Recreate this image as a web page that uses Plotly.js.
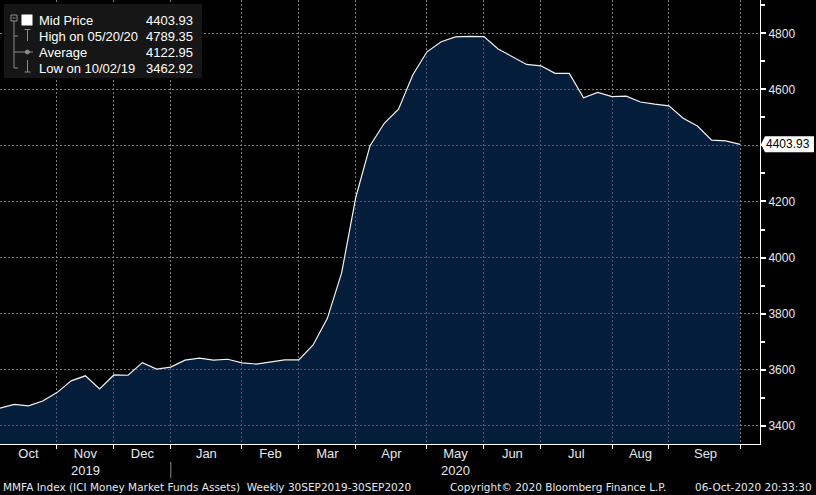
<!DOCTYPE html>
<html>
<head>
<meta charset="utf-8">
<script src="https://cdn.plot.ly/plotly-3.0.1.min.js"></script>
<style>
html,body{margin:0;padding:0;background:#000;}
#chart{width:816px;height:495px;}
</style>
</head>
<body>
<div id="chart"></div>
<script>
// ---- data ----
const weekDates = [
  "2019-10-02","2019-10-09","2019-10-16","2019-10-23","2019-10-30",
  "2019-11-06","2019-11-13","2019-11-20","2019-11-27",
  "2019-12-04","2019-12-11","2019-12-18","2019-12-25",
  "2020-01-01","2020-01-08","2020-01-15","2020-01-22","2020-01-29",
  "2020-02-05","2020-02-12","2020-02-19","2020-02-26",
  "2020-03-04","2020-03-11","2020-03-18","2020-03-25",
  "2020-04-01","2020-04-08","2020-04-15","2020-04-22","2020-04-29",
  "2020-05-06","2020-05-13","2020-05-20","2020-05-27",
  "2020-06-03","2020-06-10","2020-06-17","2020-06-24",
  "2020-07-01","2020-07-08","2020-07-15","2020-07-22","2020-07-29",
  "2020-08-05","2020-08-12","2020-08-19","2020-08-26",
  "2020-09-02","2020-09-09","2020-09-16","2020-09-23","2020-09-30"
];
const midPrice = [
  3462.92,3476,3471,3488,3518,
  3560,3578,3531,3581,
  3580,3625,3602,3609,
  3634,3641,3634,3637,3624,
  3620,3627,3635,3635,
  3688,3783,3944,4215,
  4399,4479,4529,4651,4734,
  4770,4787,4789.35,4788,
  4744,4715,4689,4684,
  4657,4657,4570,4589,4574,
  4576,4555,4547,4541,
  4497,4469,4419,4416,4403.93
];
const monthGridDates = ["2019-10-30","2019-11-27","2019-12-25","2020-01-29","2020-02-26","2020-03-25",
  "2020-04-29","2020-05-27","2020-06-24","2020-07-29","2020-08-26","2020-09-30"];
const monthLabelDates = ["2019-10-16","2019-11-13","2019-12-11","2020-01-11 12:00","2020-02-12","2020-03-11",
  "2020-04-11 12:00","2020-05-13","2020-06-10","2020-07-11 12:00","2020-08-12","2020-09-13"];
const monthLabels = ["Oct","Nov<br>2019","Dec","Jan","Feb","Mar","Apr","May<br>2020","Jun","Jul","Aug","Sep"];
const yTickVals = [3400,3600,3800,4000,4200,4400,4600,4800];
const yTickText = ["3400","3600","3800","4000","4200","","4600","4800"];
const yMinorVals = [3500,3700,3900,4100,4300,4500,4700,4900];
const legendNames = ["Mid Price","High on 05/20/20","Average","Low on 10/02/19"];
const legendValues = ["4403.93","4789.35","4122.95","3462.92"];
const lastLabel = "4403.93";
const lastValue = 4403.93;
const footerLeft = "MMFA Index (ICI Money Market Funds Assets)  Weekly 30SEP2019-30SEP2020";
const footerMid = "Copyright\u00a9 2020 Bloomberg Finance L.P.";
const footerRight = "06-Oct-2020 20:33:30";

// ---- layout helpers ----
const W = 760, H = 444;
const px = x => x / W;
const py = y => 1 - y / H;
const FONT = "Liberation Sans, Arial, sans-serif";
const FOOTFONT = "DejaVu Sans, Verdana, sans-serif";
const TXT = "#e4e9ef";
const GRID = "#7a7a7a";
const TREE = "#8c8c8c";

const xRange = ["2019-10-02", "2020-10-09 19:00"];

const trace = {
  type: "scatter", mode: "lines",
  x: weekDates, y: midPrice,
  fill: "tozeroy",
  fillcolor: "rgba(6,58,116,0.5)",
  line: {color: "#f2f2f2", width: 1.2},
  hoverinfo: "skip", showlegend: false
};
const labelTrace = {
  type: "scatter", mode: "markers", x: [monthLabelDates[0]], y: [null],
  xaxis: "x2", yaxis: "y", showlegend: false, hoverinfo: "skip"
};

const shapes = [];
const line = (x0,y0,x1,y1,c,w) => shapes.push({type:"line", xref:"paper", yref:"paper",
  x0:px(x0), y0:py(y0), x1:px(x1), y1:py(y1), line:{color:c||TREE, width:w||1}});
// legend box
shapes.push({type:"rect", xref:"paper", yref:"paper", x0:px(4), x1:px(202), y0:py(78), y1:py(4),
  fillcolor:"#161616", line:{width:0}, layer:"above"});
// tree
shapes.push({type:"rect", xref:"paper", yref:"paper", x0:px(11), x1:px(17), y0:py(21), y1:py(15),
  fillcolor:"rgba(0,0,0,0)", line:{color:TREE, width:1}});
line(12.5,18,15.5,18);
line(14,21,14,68);
line(14,36,18,36);
line(14,68,18,68);
line(14,52,33,52);
// high icon
line(24.5,29.5,30.5,29.5); line(27.5,29.5,27.5,41);
// average circle
shapes.push({type:"circle", xref:"paper", yref:"paper", x0:px(25.3), x1:px(29.3), y0:py(54), y1:py(50),
  fillcolor:TREE, line:{color:TREE, width:1}});
// low icon
line(27.5,60,27.5,72); line(24.5,72,30.5,72);
// white square
shapes.push({type:"rect", xref:"paper", yref:"paper", x0:px(21.5), x1:px(32.5), y0:py(25.5), y1:py(14.5),
  fillcolor:"#ffffff", line:{width:0}});
// year separator
shapes.push({type:"line", xref:"x", yref:"paper", x0:monthGridDates[2], x1:monthGridDates[2],
  y0:py(462), y1:py(478), line:{color:"#8a8a8a", width:1}});
// last value tag
shapes.push({type:"path", xref:"paper", xsizemode:"pixel", xanchor:1, yref:"y", ysizemode:"pixel",
  yanchor:lastValue, path:"M 1 0 L 5 -8 L 54 -8 L 54 8 L 5 8 Z", fillcolor:"#ffffff", line:{width:0}});

const annotations = [];
const legY = [20.5, 36, 52, 68];
legendNames.forEach((n,i) => {
  annotations.push({xref:"paper", yref:"paper", x:px(37), y:py(legY[i]), xanchor:"left", yanchor:"middle",
    text:n, showarrow:false, font:{family:FONT, size:13, color:"#ffffff"}});
  annotations.push({xref:"paper", yref:"paper", x:px(195), y:py(legY[i]), xanchor:"right", yanchor:"middle",
    text:legendValues[i], showarrow:false, font:{family:FONT, size:13, color:"#ffffff"}});
});
annotations.push({xref:"paper", yref:"y", x:1, xshift:4, y:lastValue, xanchor:"left", yanchor:"middle",
  text:lastLabel, showarrow:false, font:{family:FONT, size:12, color:"#000000"}});
annotations.push({xref:"paper", yref:"paper", x:px(1), y:py(487), xanchor:"left", yanchor:"middle",
  text:footerLeft, showarrow:false, font:{family:FOOTFONT, size:10.5, color:TXT}});
annotations.push({xref:"paper", yref:"paper", x:px(448), y:py(487), xanchor:"left", yanchor:"middle",
  text:footerMid, showarrow:false, font:{family:FOOTFONT, size:10.5, color:TXT}});
annotations.push({xref:"paper", yref:"paper", x:px(814), y:py(487), xanchor:"right", yanchor:"middle",
  text:footerRight, showarrow:false, font:{family:FOOTFONT, size:10.5, color:TXT}});

const layout = {
  width: 816, height: 495,
  margin: {l:0, r:56, t:0, b:51, pad:0},
  paper_bgcolor: "#000000", plot_bgcolor: "#000000",
  showlegend: false,
  font: {family: FONT, color: TXT},
  xaxis: {
    type: "date", range: xRange, fixedrange: true,
    tickmode: "array", tickvals: monthGridDates, showticklabels: false,
    ticks: "outside", ticklen: 4, tickwidth: 1, tickcolor: "#ffffff",
    showgrid: true, gridcolor: GRID, gridwidth: 1, griddash: "2px,2px",
    showline: true, linecolor: "#ffffff", linewidth: 1, zeroline: false
  },
  xaxis2: {
    type: "date", range: xRange, overlaying: "x", anchor: "y", side: "bottom", fixedrange: true,
    tickmode: "array", tickvals: monthLabelDates, ticktext: monthLabels,
    ticks: "", showgrid: false, showline: false, zeroline: false,
    tickfont: {family: FONT, size: 13, color: TXT}
  },
  yaxis: {
    side: "right", range: [3334.7, 4918.8], fixedrange: true,
    tickmode: "array", tickvals: yTickVals, ticktext: yTickText,
    ticks: "outside", ticklen: 5, tickwidth: 2, tickcolor: "#ffffff",
    minor: {tickmode: "array", tickvals: yMinorVals, ticks: "outside", ticklen: 4, tickcolor: "#ffffff", showgrid: false},
    showgrid: true, gridcolor: GRID, gridwidth: 1, griddash: "2px,2px",
    showline: true, linecolor: "#ffffff", linewidth: 1, zeroline: false,
    tickfont: {family: FONT, size: 12, color: TXT}
  },
  shapes: shapes,
  annotations: annotations
};

Plotly.newPlot("chart", [trace, labelTrace], layout, {displayModeBar: false, staticPlot: true});
</script>
</body>
</html>
